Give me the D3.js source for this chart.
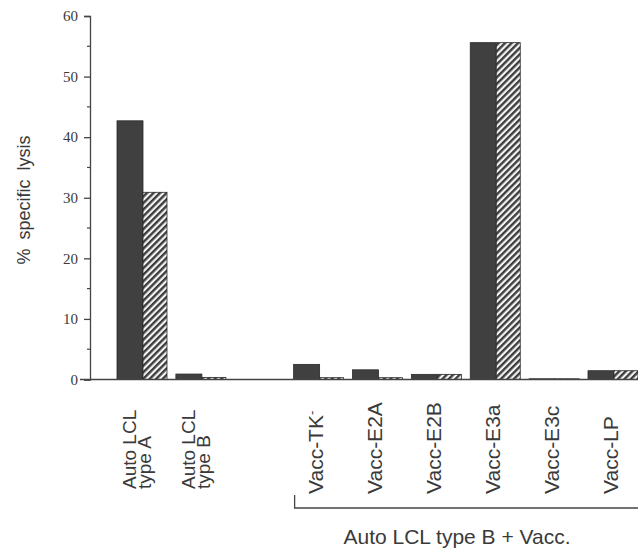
<!DOCTYPE html>
<html>
<head>
<meta charset="utf-8">
<script src="https://d3js.org/d3.v7.min.js"></script>
<style>
  body { margin: 0; background: #fff; }
  text { fill: #3a3a3a; }
</style>
</head>
<body>
<div id="chart"></div>
<script>
// categories (the empty one is the gap between the two groups)
var categories = ["autoA", "autoB", "gap", "TK", "E2A", "E2B", "E3a", "E3c", "LP"];
var labelLines = [["Auto LCL", "type A"], ["Auto LCL", "type B"], [], ["Vacc-TK"], ["Vacc-E2A"], ["Vacc-E2B"], ["Vacc-E3a"], ["Vacc-E3c"], ["Vacc-LP"]];
var solidValues = [42.7, 0.9, null, 2.5, 1.6, 0.85, 55.6, 0.12, 1.45];
var hatchedValues = [30.9, 0.35, null, 0.3, 0.3, 0.85, 55.6, 0.12, 1.45];
var yTicks = [0, 10, 20, 30, 40, 50, 60];
var yMinorTicks = [5, 15, 25, 35, 45, 55];

var W = 638, H = 548;
var svg = d3.select("#chart").append("svg")
  .attr("width", W).attr("height", H);

// hatch pattern
var defs = svg.append("defs");
defs.append("pattern")
  .attr("id", "hatch")
  .attr("patternUnits", "userSpaceOnUse")
  .attr("width", 4.6).attr("height", 4.6)
  .attr("patternTransform", "rotate(45)")
  .call(function (p) {
    p.append("rect").attr("width", 4.6).attr("height", 4.6).attr("fill", "#f4f4f4");
    p.append("rect").attr("width", 2.4).attr("height", 4.6).attr("fill", "#3d3d3d");
  });

var x = d3.scalePoint().domain(categories).range([143, 614]);
var y = d3.scaleLinear().domain([0, 60]).range([379.5, 16]);
var barW = 26;
var axisX = 90;

// bars
var rows = categories.map(function (c, i) {
  return { cat: c, solid: solidValues[i], hatched: hatchedValues[i] };
}).filter(function (d) { return d.solid != null; });

svg.append("g").selectAll("rect")
  .data(rows).enter().append("rect")
  .attr("x", function (d) { return x(d.cat) - barW; })
  .attr("y", function (d) { return y(d.solid); })
  .attr("width", barW)
  .attr("height", function (d) { return y(0) - y(d.solid); })
  .attr("fill", "#404040")
  .attr("stroke", "#2a2a2a").attr("stroke-width", 0.8);

svg.append("g").selectAll("rect")
  .data(rows).enter().append("rect")
  .attr("x", function (d) { return x(d.cat); })
  .attr("y", function (d) { return y(d.hatched); })
  .attr("width", barW - 2)
  .attr("height", function (d) { return y(0) - y(d.hatched); })
  .attr("fill", "url(#hatch)")
  .attr("stroke", "#2a2a2a").attr("stroke-width", 0.8);

// baseline
svg.append("line")
  .attr("x1", 80).attr("x2", W)
  .attr("y1", y(0)).attr("y2", y(0))
  .attr("stroke", "#444").attr("stroke-width", 1.3);

// y axis
var yAxis = d3.axisLeft(y).tickValues(yTicks).tickSize(6).tickPadding(6);
var gy = svg.append("g").attr("transform", "translate(" + axisX + ",0)").call(yAxis);
gy.select(".domain").attr("stroke", "#444").attr("stroke-width", 1.3);
gy.selectAll(".tick line").attr("stroke", "#444").attr("stroke-width", 1.3);
gy.selectAll(".tick text")
  .attr("font-family", "Liberation Serif, serif")
  .attr("font-size", 15).attr("fill", "#555");

svg.append("g").selectAll("line")
  .data(yMinorTicks).enter().append("line")
  .attr("x1", axisX - 3).attr("x2", axisX)
  .attr("y1", function (d) { return y(d); })
  .attr("y2", function (d) { return y(d); })
  .attr("stroke", "#444").attr("stroke-width", 1.2);

// y label
svg.append("text")
  .attr("transform", "translate(30,200) rotate(-90)")
  .attr("text-anchor", "middle")
  .attr("font-family", "Liberation Sans, Arial, sans-serif")
  .attr("font-size", 18)
  .attr("word-spacing", 4)
  .text("% specific lysis");

// category labels
categories.forEach(function (c, i) {
  var lines = labelLines[i];
  if (!lines.length) return;
  var two = lines.length > 1;
  var bottom = two ? 489 : 494;
  var cx = two ? x(c) - 6 : x(c) - 4;
  var t = svg.append("text")
    .attr("transform", "translate(" + cx + "," + bottom + ") rotate(-90)")
    .attr("font-family", "Liberation Sans, Arial, sans-serif")
    .attr("font-size", two ? 19 : 21);
  if (two) {
    t.append("tspan").attr("x", 0).attr("dy", "-0.05em").text(lines[0]);
    t.append("tspan").attr("x", 0).attr("dy", "0.78em").text(lines[1]);
  } else {
    t.append("tspan").attr("dy", "0.36em").text(lines[0]);
    if (c === "TK") {
      t.append("tspan").attr("dy", "-0.55em").attr("font-size", 13).text("-");
    }
  }
});

// group bracket
var bx = x("TK") - 25;
svg.append("path")
  .attr("d", "M" + bx + ",495 V508 H" + W)
  .attr("fill", "none").attr("stroke", "#444").attr("stroke-width", 1.3);

svg.append("text")
  .attr("x", 457).attr("y", 544)
  .attr("text-anchor", "middle")
  .attr("font-family", "Liberation Sans, Arial, sans-serif")
  .attr("font-size", 21)
  .text("Auto LCL type B + Vacc.");
</script>
</body>
</html>
